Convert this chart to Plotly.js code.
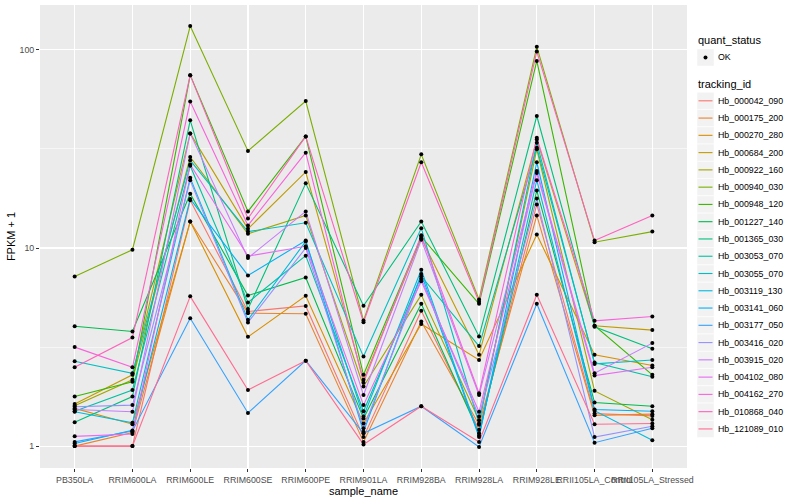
<!DOCTYPE html>
<html><head><meta charset="utf-8">
<script src="https://cdn.plot.ly/plotly-3.0.1.min.js"></script>
<style>html,body{margin:0;padding:0;background:#fff}#chart{width:800px;height:500px}</style>
</head><body><div id="chart"></div>
<script>
const sampleNames = ["PB350LA","RRIM600LA","RRIM600LE","RRIM600SE","RRIM600PE","RRIM901LA","RRIM928BA","RRIM928LA","RRIM928LE","RRII105LA_Control","RRII105LA_Stressed"];
const trackingIds = ["Hb_000042_090","Hb_000175_200","Hb_000270_280","Hb_000684_200","Hb_000922_160","Hb_000940_030","Hb_000948_120","Hb_001227_140","Hb_001365_030","Hb_003053_070","Hb_003055_070","Hb_003119_130","Hb_003141_060","Hb_003177_050","Hb_003416_020","Hb_003915_020","Hb_004102_080","Hb_004162_270","Hb_010868_040","Hb_121089_010"];
const quantStatus = ["OK"];

// FPKM + 1 per sample, in sampleNames order
const hb_000042_090 = [1.0, 1.0, 17.4, 4.78, 5.1, 1.11, 4.82, 1.21, 16.6, 1.46, 1.42];
const hb_000175_200 = [1.0, 1.17, 13.6, 4.69, 4.66, 1.05, 4.26, 1.28, 14.6, 1.43, 1.45];
const hb_000270_280 = [1.55, 1.29, 13.6, 3.56, 5.74, 1.30, 4.13, 2.72, 11.7, 2.89, 2.55];
const hb_000684_200 = [1.63, 2.29, 37.9, 12.5, 24.2, 2.16, 11.2, 2.89, 35.3, 4.05, 3.85];
const hb_000922_160 = [1.60, 2.16, 28.8, 11.8, 14.6, 2.0, 5.8, 1.35, 31.5, 1.90, 1.36];
const hb_000940_030 = [7.19, 9.8, 132, 30.9, 55.2, 4.3, 29.7, 5.5, 103.7, 10.7, 12.1];
const hb_000948_120 = [1.78, 2.11, 74.6, 15.3, 36.6, 2.29, 11.4, 5.23, 88, 4.05, 2.29];
const hb_001227_140 = [4.03, 3.79, 18.8, 5.76, 7.1, 1.38, 5.23, 1.16, 19.5, 1.66, 1.59];
const hb_001365_030 = [1.32, 1.78, 44.1, 4.92, 21.2, 5.11, 13.6, 3.58, 46.4, 4.0, 3.10];
const hb_003053_070 = [1.50, 1.92, 26.0, 5.31, 9.15, 1.5, 7.2, 3.2, 32.1, 2.64, 2.24];
const hb_003055_070 = [2.68, 2.33, 27.7, 12.1, 13.4, 2.83, 12.6, 1.3, 34, 2.60, 2.72];
const hb_003119_130 = [1.49, 1.31, 22.6, 4.34, 10.8, 1.41, 7.77, 1.13, 22, 1.51, 1.07];
const hb_003141_060 = [1.03, 1.20, 17.7, 7.27, 10.9, 1.18, 7.4, 1.11, 27.1, 1.53, 1.50];
const hb_003177_050 = [1.05, 1.19, 4.42, 1.47, 2.70, 1.16, 1.59, 0.99, 5.23, 1.04, 1.23];
const hb_003416_020 = [1.58, 1.61, 22.0, 4.21, 10.0, 1.23, 7.0, 1.41, 17.8, 1.11, 1.26];
const hb_003915_020 = [1.53, 1.49, 37.9, 8.9, 15.3, 1.81, 11.0, 1.81, 24.5, 2.33, 3.31];
const hb_004102_080 = [1.12, 1.15, 26.4, 9.1, 10.2, 1.61, 6.8, 1.49, 23.9, 2.27, 2.50];
const hb_004162_270 = [3.16, 2.50, 54.9, 13.0, 30.3, 2.09, 11.6, 1.85, 36.0, 4.29, 4.51];
const hb_010868_040 = [2.50, 3.53, 74.6, 14.1, 36.6, 4.22, 27.1, 5.35, 98.1, 10.9, 14.6];
const hb_121089_010 = [1.0, 1.0, 5.7, 1.92, 2.70, 1.02, 1.59, 1.05, 5.81, 1.29, 1.30];

const yTickVals = [1, 10, 100];
const yTickText = ["1", "10", "100"];

const seriesValues = [hb_000042_090, hb_000175_200, hb_000270_280, hb_000684_200, hb_000922_160,
  hb_000940_030, hb_000948_120, hb_001227_140, hb_001365_030, hb_003053_070, hb_003055_070,
  hb_003119_130, hb_003141_060, hb_003177_050, hb_003416_020, hb_003915_020, hb_004102_080,
  hb_004162_270, hb_010868_040, hb_121089_010];

const palette = ["#F8766D","#EA8331","#D89000","#C09B00","#A3A500","#7CAE00","#39B600","#00BB4E","#00BF7D","#00C1A3","#00BFC4","#00BAE0","#00B0F6","#35A2FF","#9590FF","#C77CFF","#E76BF3","#FA62DB","#FF62BC","#FF6C91"];

const W = 800, H = 500;
const M = {l: 40, r: 113, t: 5, b: 32};
const PW = W - M.l - M.r, PH = H - M.t - M.b;
const fx = X => (X - M.l) / PW;          // pixel -> paper x
const fy = Y => (H - M.b - Y) / PH;      // pixel -> paper y

const traces = trackingIds.map((id, i) => ({
  type: 'scatter', mode: 'lines', x: sampleNames, y: seriesValues[i], name: id,
  line: {color: palette[i], width: 1.1}, showlegend: false, hoverinfo: 'skip'
}));
const px = [], py = [];
seriesValues.forEach(v => v.forEach((y, j) => { px.push(sampleNames[j]); py.push(y); }));
traces.push({type: 'scatter', mode: 'markers', x: px, y: py, name: quantStatus[0],
  marker: {color: '#000', size: 4}, showlegend: false, hoverinfo: 'skip'});

const all = seriesValues.flat().map(v => Math.log10(v));
const lo = Math.min(...all), hi = Math.max(...all), pad = (hi - lo) * 0.05;

const fam = '"Liberation Sans", Arial, Helvetica, sans-serif';

// ggplot-style legends (keys with grey95 background)
const shapes = [], annotations = [];
const keyX0 = 697, keyW = 17, keyH = 17, textX = 716;
function key(cy) {
  shapes.push({type: 'rect', xref: 'paper', yref: 'paper', x0: fx(keyX0), x1: fx(keyX0 + keyW),
    y0: fy(cy - keyH / 2), y1: fy(cy + keyH / 2), fillcolor: '#F2F2F2', line: {color: '#fff', width: 0.5}, layer: 'above'});
}
function label(text, cy, size, x) {
  annotations.push({xref: 'paper', yref: 'paper', x: fx(x), y: fy(cy), xanchor: 'left', yanchor: 'middle',
    text: text, showarrow: false, font: {family: fam, size: size, color: '#000'}});
}
label('quant_status', 40.5, 11, 696);
quantStatus.forEach((q, i) => {
  const cy = 57.5 + i * 17.27;
  key(cy);
  shapes.push({type: 'circle', xref: 'paper', yref: 'paper', x0: fx(keyX0 + keyW / 2 - 2), x1: fx(keyX0 + keyW / 2 + 2),
    y0: fy(cy + 2), y1: fy(cy - 2), fillcolor: '#000', line: {width: 0}, layer: 'above'});
  label(q, cy, 8.8, textX);
});
label('tracking_id', 84, 11, 696);
trackingIds.forEach((id, i) => {
  const cy = 100.8 + i * 17.27;
  key(cy);
  shapes.push({type: 'line', xref: 'paper', yref: 'paper', x0: fx(keyX0 + 1.5), x1: fx(keyX0 + keyW - 1.5),
    y0: fy(cy), y1: fy(cy), line: {color: palette[i], width: 1.1}, layer: 'above'});
  label(id, cy, 8.8, textX);
});

const layout = {
  width: W, height: H, margin: M,
  paper_bgcolor: '#fff', plot_bgcolor: '#EBEBEB',
  font: {family: fam, color: '#000'},
  showlegend: false,
  shapes: shapes, annotations: annotations,
  xaxis: {
    type: 'category', categoryorder: 'array', categoryarray: sampleNames,
    range: [-0.6, sampleNames.length - 0.4],
    showgrid: true, gridcolor: '#fff', gridwidth: 1.1, zeroline: false,
    ticks: 'outside', ticklen: 3, tickcolor: '#333', tickwidth: 1, tickangle: 0,
    tickfont: {family: fam, size: 8.8, color: '#4D4D4D'},
    title: {text: 'sample_name', font: {family: fam, size: 11, color: '#000'}, standoff: 3},
    automargin: false, fixedrange: true
  },
  yaxis: {
    type: 'log', range: [lo - pad, hi + pad],
    tickmode: 'array', tickvals: yTickVals, ticktext: yTickText,
    showgrid: true, gridcolor: '#fff', gridwidth: 1.1, zeroline: false,
    ticks: 'outside', ticklen: 3, tickcolor: '#333', tickwidth: 1,
    tickfont: {family: fam, size: 8.8, color: '#4D4D4D'},
    minor: {tickmode: 'array', tickvals: [Math.sqrt(10), Math.sqrt(1000)], showgrid: true, gridcolor: '#fff', gridwidth: 0.55, ticklen: 0},
    title: {text: 'FPKM + 1', font: {family: fam, size: 11, color: '#000'}, standoff: 1},
    automargin: false, fixedrange: true
  }
};
Plotly.newPlot('chart', traces, layout, {displayModeBar: false, staticPlot: true});
</script></body></html>
